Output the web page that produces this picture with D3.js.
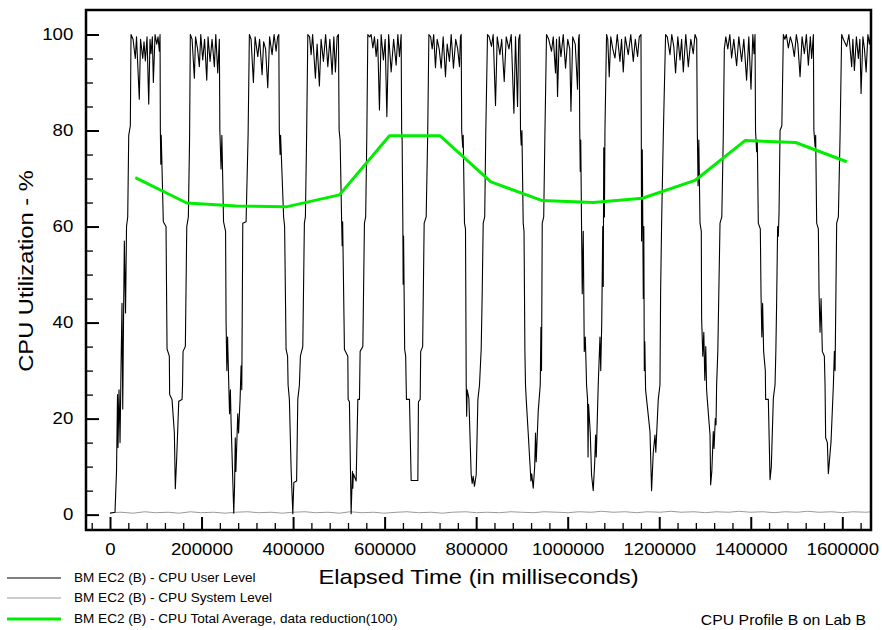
<!DOCTYPE html>
<html><head><meta charset="utf-8">
<script src="https://cdn.jsdelivr.net/npm/d3@7"></script>
<style>
html,body{margin:0;padding:0;background:#fff;}
svg{display:block;}
text{font-family:"Liberation Sans",Arial,Helvetica,sans-serif;fill:#000;}
</style></head><body>
<svg id="chart" width="882" height="630"></svg>
<script>
// ---------- DATA ----------
const yTickValues = [0, 20, 40, 60, 80, 100];
const yTickLabels = ["0", "20", "40", "60", "80", "100"];
const xTickValues = [0, 200000, 400000, 600000, 800000, 1000000, 1200000, 1400000, 1600000];
const xTickLabels = ["0", "200000", "400000", "600000", "800000", "1000000", "1200000", "1400000", "1600000"];

// CPU User Level  [elapsed ms, %]
const userSeries = [
[0,0.3],[10900,0.5],[14200,9],[16400,25],[17500,14],[19700,26],[21900,15],[24000,30],[26200,44],[27800,22],[29500,40],[31300,57],[33900,42],[36100,60],[38700,62],[40900,79],[44400,81],[45900,100],
[50300,99],[55300,95],[57900,99.5],[64000,86.5],[66700,99],[71500,95],[74300,98.5],[77200,94.5],[80900,99.5],[84600,85.5],[87400,99],[89600,96],[92500,99.5],[94700,90],[98400,100],[102100,98],[104900,99.5],[107800,96.5],[109300,100],
[110000,80],[111000,73],[111900,79],[116500,61],[122400,60],[124600,34.5],[129600,33],[130300,25],[135500,24],[140600,17],[142700,5.4],[145800,12],[150200,23.6],[157400,24],[158500,27],[159600,34],[164600,35],[167700,60],[171200,62],[173800,78],[175500,100],
[179300,99],[184300,90.9],[186900,99.5],[191300,97],[195200,93.3],[198300,100],[202600,94.7],[206600,99],[211400,90.5],[214200,99.5],[218600,94.4],[223000,99],[228000,93.3],[231100,100],[235400,92],[238900,99],
[240000,80],[242600,72],[244400,79],[248100,61],[252500,59],[253600,40],[255300,30],[256900,37],[259500,27],[261200,21],[263000,26],[264500,19.4],[270400,0.3],[272200,6],[273700,16],[275000,9],[279100,21],[280900,17],[284200,24],[286400,31],[287900,26],[290100,60.7],[297300,61],[301700,79],[304500,100],
[308200,99],[313300,90],[317000,99.5],[322900,95.4],[326800,99],[332300,91.6],[335600,98.5],[339900,97],[344700,88.9],[348700,99.5],[354100,95.8],[358500,100],[362900,96.5],[366200,99.5],[368800,100],
[369900,80],[371600,75],[372700,79],[379300,62],[381500,60],[384700,34.4],[388000,33],[389100,27],[391900,24],[395700,9.5],[399400,0.2],[401600,6.7],[407700,7],[410300,24],[413800,27],[416000,33],[421200,35],[424700,60.7],[426900,62],[429600,79],[432200,100],
[436100,99.5],[439400,95.8],[442700,100],[448800,90.9],[452500,98],[457500,89.3],[461200,99],[466300,94.4],[471100,100],[475900,93.3],[480300,99],[485300,91.7],[489000,99.5],[492500,92.2],[496200,99.5],[499100,100],
[500600,80],[502800,78],[506100,61],[507200,56],[508300,61],[512200,34.4],[519600,33],[520300,24],[523100,23.5],[526800,0.2],[529700,9],[530500,5.5],[531700,8.5],[537800,7],[541500,24],[545000,24],[546500,34],[552400,35],[555900,60.7],[558600,62],[561100,79],[563300,100],
[567300,99.5],[570500,100],[574300,97.2],[577800,99.5],[581500,95.4],[584800,99],[588700,84.3],[592400,100],[597400,94.7],[601200,99],[604900,82.9],[608800,100],[614300,92.2],[619700,99],[625200,93.6],[628900,100],[632400,95.4],[636100,100],
[637200,80],[638300,78],[639800,60.7],[640500,48],[641400,58],[643800,34.4],[646000,33],[647100,27],[647700,24],[654300,24],[658000,7.1],[672600,7.1],[673900,23.5],[677700,24],[678800,34],[683100,35],[686400,60.7],[690800,62],[694100,79],[696700,100],
[700600,99.5],[703900,97],[707200,100],[711100,93.1],[714800,99],[719200,97],[723600,93],[727900,99.5],[733000,91.2],[736700,98],[741700,94.4],[745400,100],[750400,93],[755300,99],[759600,97],[763600,93.3],[765700,99.5],[767300,100],
[768400,80],[770600,76.5],[771700,79],[774500,60.7],[776700,59.5],[778300,27],[779300,20.5],[780400,26],[784100,24.2],[789100,8.4],[791300,6.5],[793500,8],[796300,5.9],[800100,8.3],[803800,24],[807300,27],[811000,34.5],[813200,46],[815400,60.7],[818700,62],[820900,78.8],[824800,100],
[828500,99.5],[833500,97.5],[837200,100],[842300,85.2],[846000,99.5],[851900,95.8],[855800,99],[861300,90.2],[865700,99.5],[871600,97],[876600,100],[882500,83.6],[886000,99.5],[890400,85],[893000,99],[895600,100],
[896900,80],[898400,77],[900000,80],[902800,60.7],[904600,59],[906500,34],[907800,27],[909400,24],[913700,17],[919700,7],[921400,8.5],[924700,5.5],[927900,10],[929700,17],[931200,11],[935600,21.5],[940000,27],[941500,39],[942800,30],[944400,60.7],[947600,62],[950200,79],[953700,100],
[958500,99],[964700,96.5],[968400,99.5],[973400,92],[975600,99],[977800,87.1],[981500,99.5],[985200,95.4],[990300,100],[995300,93],[1000100,99],[1004500,97],[1007100,84],[1011000,99.5],[1016500,98],[1021500,88.6],[1023700,99],[1025200,100],
[1026300,80],[1027400,71.5],[1028500,78],[1030300,60],[1031800,46],[1034000,59],[1036200,34],[1038400,37],[1039900,32],[1041200,27],[1043400,24],[1044500,12],[1045600,23],[1049300,17],[1052100,8.3],[1055800,5],[1059100,11],[1060900,16.6],[1062400,12],[1066700,27],[1070500,37],[1072200,30],[1074400,40],[1076600,60],[1077700,47.5],[1078800,76.4],[1080300,62],[1081400,80],[1084900,100],
[1087500,99],[1090800,91.2],[1094100,99.5],[1098500,97],[1103300,95.1],[1108300,100],[1114200,94.4],[1117700,99],[1121400,92.2],[1125800,99.5],[1132300,95.8],[1137800,100],[1143300,94.4],[1147700,99],[1152700,95.4],[1156400,99.5],[1160100,100],
[1160800,80],[1161400,57],[1163000,76],[1165200,45],[1166300,60],[1167400,30],[1168500,36],[1170200,26],[1172400,24],[1179800,17.3],[1183300,5],[1187000,13],[1190700,16.6],[1192500,13],[1197900,24],[1201600,27],[1203000,46],[1205200,60.7],[1208900,79],[1213900,100],
[1217600,99.5],[1223500,95.8],[1227400,100],[1231800,97.5],[1235700,92],[1240600,99.5],[1245400,94.7],[1248900,99],[1252600,92.2],[1258000,100],[1263500,93.3],[1269000,99],[1274400,96],[1278200,100],[1281900,99],
[1283200,80],[1284900,68.5],[1286500,78],[1289100,60.7],[1291900,59],[1292600,41],[1295200,33],[1297400,38],[1299600,28],[1301700,35],[1303500,26],[1305000,24],[1311000,16.6],[1312300,6.2],[1314900,9],[1318100,17.3],[1319700,13.8],[1322500,20],[1324100,18.7],[1325400,27],[1328000,34],[1332800,60.7],[1336700,62],[1340000,79],[1342200,97],
[1345500,99.5],[1349800,97],[1354200,100],[1358100,95.1],[1362900,99],[1369100,93.5],[1373900,99.5],[1380000,94.4],[1384800,99],[1390900,90.5],[1395700,99.5],[1400500,88.6],[1404500,100],[1407100,96],[1409300,100],
[1410400,80],[1412800,75.6],[1414300,78],[1416500,60.7],[1420900,59.5],[1422400,46],[1424200,37],[1425900,44],[1428100,34],[1431800,30],[1432500,24],[1438400,24],[1442100,7.3],[1444900,10],[1449300,24.2],[1453000,27],[1454800,34],[1456500,44],[1458700,60],[1460200,58],[1461800,63],[1464000,80],[1467900,81],[1471200,100],
[1474500,99],[1477700,100],[1482100,97.2],[1486500,99.5],[1490900,98],[1495200,95.4],[1499600,100],[1502900,98],[1507700,91.2],[1512100,99.5],[1517100,96],[1521500,100],[1525800,93.6],[1530200,99.5],[1533000,95],[1536800,100],
[1537900,80],[1540500,76.7],[1541800,79],[1544000,60.7],[1547700,59.5],[1549200,46],[1551400,38],[1553600,45],[1556400,34],[1560800,33],[1562300,27],[1563600,16],[1567400,15],[1569500,8.5],[1575400,15.2],[1580500,27],[1582700,34],[1584200,30],[1587700,60.7],[1591400,62],[1595100,78.8],[1598600,100],
[1602300,99],[1609600,97.5],[1614400,100],[1620500,93.3],[1623100,99],[1626400,92.5],[1630800,99.5],[1635100,95],[1638400,99],[1641000,87.7],[1645000,99.5],[1648400,97],[1652100,92.2],[1655900,100],[1659200,98],[1661800,100],[1662700,80],[1663600,62]
];

// CPU System Level  [elapsed ms, %]
const systemSeries = [
[0,0.4],[24000,0.5],[51000,0.3],[76000,0.6],[99000,0.4],[127000,0.5],[151000,0.3],[176000,0.6],[198000,0.4],[226000,0.5],[252000,0.3],[274000,0.5],[301000,0.6],[324000,0.4],[352000,0.5],[377000,0.3],[399000,0.5],[426000,0.6],[449000,0.4],[476000,0.5],[502000,0.3],[524000,0.6],[551000,0.4],[576000,0.5],[598000,0.3],[627000,0.5],[649000,0.6],[674000,0.4],[702000,0.5],[726000,0.3],[748000,0.5],[777000,0.6],[801000,0.4],[823000,0.5],[851000,0.4],[876000,0.6],[899000,0.5],[926000,0.4],[948000,0.6],[977000,0.5],[1001000,0.4],[1024000,0.6],[1052000,0.5],[1074000,0.7],[1099000,0.5],[1126000,0.6],[1151000,0.4],[1173000,0.6],[1202000,0.5],[1226000,0.7],[1248000,0.5],[1276000,0.6],[1301000,0.4],[1324000,0.6],[1352000,0.5],[1374000,0.7],[1399000,0.5],[1427000,0.6],[1451000,0.4],[1474000,0.6],[1502000,0.5],[1524000,0.7],[1549000,0.5],[1577000,0.6],[1601000,0.4],[1623000,0.6],[1651000,0.5],[1663000,0.6]
];

// CPU Total Average, data reduction(100)  [elapsed ms, %]
const avgSeries = [
[55300,70.2],[167700,64.9],[276000,64.3],[384700,64.1],[501300,66.6],[610600,78.9],[721400,78.9],[832200,69.3],[944400,65.4],[1055800,65.0],[1163000,65.9],[1278100,69.6],[1387400,77.9],[1498100,77.5],[1609600,73.5]
];

const legendLabels = [
  "BM EC2 (B) - CPU User Level",
  "BM EC2 (B) - CPU System Level",
  "BM EC2 (B) - CPU Total Average, data reduction(100)"
];
const xTitle = "Elapsed Time (in milliseconds)";
const yTitle = "CPU Utilization - %";
const noteText = "CPU Profile B on Lab B";

// ---------- STYLES / LAYOUT ----------
const seriesStyle = [
  {color: "#000000", width: 1.1},
  {color: "#9a9a9a", width: 1},
  {color: "#00ee00", width: 3}
];
const L = 86, R = 871, T = 10, B = 530;
const SX = 1.13; // wide-font stretch along the text direction

const svg = d3.select("#chart");
const x = d3.scaleLinear().domain([-52460, 1662700]).range([L, R]);
const y = d3.scaleLinear().domain([-3.2, 105.1]).range([B, T]);

svg.append("defs").append("clipPath").attr("id", "plotclip")
  .append("rect").attr("x", L).attr("y", T).attr("width", R - L).attr("height", B - T);

// minor ticks
const xMinor = d3.range(-40000, 1660001, 40000).filter(v => v % 200000 !== 0);
const yMinor = d3.range(0, 101, 5).filter(v => v % 20 !== 0);

const gxm = svg.append("g").attr("transform", `translate(0,${B})`)
  .call(d3.axisBottom(x).tickValues(xMinor).tickSizeInner(-7).tickSizeOuter(0).tickFormat(""));
gxm.select(".domain").remove();
gxm.selectAll("line").attr("stroke-width", 1.3);

const gym = svg.append("g").attr("transform", `translate(${L},0)`)
  .call(d3.axisLeft(y).tickValues(yMinor).tickSizeInner(-7).tickSizeOuter(0).tickFormat(""));
gym.select(".domain").remove();
gym.selectAll("line").attr("stroke-width", 1.3);

// major ticks + labels
const gx = svg.append("g").attr("transform", `translate(0,${B})`)
  .call(d3.axisBottom(x).tickValues(xTickValues).tickSizeInner(-13).tickSizeOuter(0)
    .tickPadding(13.5).tickFormat((d, i) => xTickLabels[i]));
gx.select(".domain").remove();
gx.selectAll("line").attr("stroke-width", 2);
gx.selectAll("text").attr("font-size", 16.5).attr("font-family", null)
  .attr("transform", `scale(${SX},1)`);

const gy = svg.append("g").attr("transform", `translate(${L},0)`)
  .call(d3.axisLeft(y).tickValues(yTickValues).tickSizeInner(-13).tickSizeOuter(0)
    .tickPadding(12.7).tickFormat((d, i) => yTickLabels[i]));
gy.select(".domain").remove();
gy.selectAll("line").attr("stroke-width", 2);
gy.selectAll("text").attr("font-size", 16.5).attr("font-family", null)
  .attr("x", 0).attr("transform", `translate(-12.7,0) scale(${SX},1)`);

// lines
const line = d3.line().x(d => x(d[0])).y(d => y(d[1]));
const plot = svg.append("g").attr("clip-path", "url(#plotclip)");
[[systemSeries, 1], [userSeries, 0], [avgSeries, 2]].forEach(([data, si]) => {
  plot.append("path").datum(data).attr("d", line)
    .attr("fill", "none").attr("stroke", seriesStyle[si].color)
    .attr("stroke-width", seriesStyle[si].width).attr("stroke-linejoin", "round");
});

// frame
svg.append("rect").attr("x", L).attr("y", T).attr("width", R - L).attr("height", B - T)
  .attr("fill", "none").attr("stroke", "#000").attr("stroke-width", 2.5);

// axis titles
svg.append("text").attr("text-anchor", "middle").attr("font-size", 21)
  .attr("transform", `translate(${(L + R) / 2},584) scale(${SX},1)`).text(xTitle);
svg.append("text").attr("text-anchor", "middle").attr("font-size", 21)
  .attr("transform", `translate(33,271) rotate(-90) scale(${SX},1)`).text(yTitle);

// legend
const legendY = [578, 598, 619];
legendLabels.forEach((lab, i) => {
  svg.append("line").attr("x1", 7).attr("x2", 61).attr("y1", legendY[i]).attr("y2", legendY[i])
    .attr("stroke", seriesStyle[i].color).attr("stroke-width", i === 0 ? 1 : seriesStyle[i].width);
  svg.append("text").attr("font-size", 12)
    .attr("transform", `translate(74,${legendY[i] + 4.3}) scale(${SX},1)`).text(lab);
});

svg.append("text").attr("font-size", 14).attr("text-anchor", "end")
  .attr("transform", `translate(866,625) scale(${SX},1)`).text(noteText);
</script>
</body></html>
